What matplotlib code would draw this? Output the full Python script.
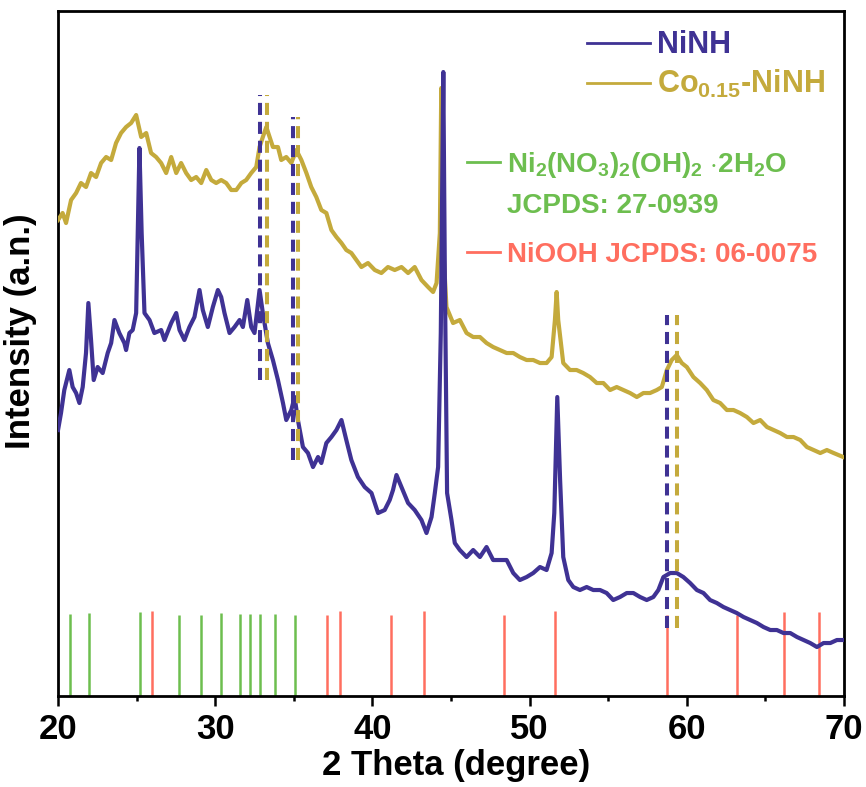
import matplotlib
matplotlib.use("Agg")
import matplotlib.pyplot as plt
import matplotlib.ticker as ticker

plt.rcParams["font.family"] = ["Liberation Sans", "DejaVu Sans"]
plt.rcParams["font.weight"] = "bold"
plt.rcParams["mathtext.fontset"] = "custom"
plt.rcParams["mathtext.bf"] = "Liberation Sans:bold"
plt.rcParams["mathtext.rm"] = "Liberation Sans:bold"
plt.rcParams["mathtext.default"] = "bf"

# NiNH pattern (2theta, intensity in arbitrary units)
ninh_2theta = [
    20.00, 20.19, 20.40, 20.72, 20.93, 21.15, 21.36, 21.57, 21.78, 21.93,
    22.10, 22.27, 22.52, 22.84, 23.16, 23.38, 23.59, 23.90, 24.22, 24.33,
    24.54, 24.75, 24.97, 25.18, 25.32, 25.50, 25.82, 26.13, 26.56, 26.77,
    27.20, 27.52, 27.73, 28.04, 28.36, 28.68, 29.00, 29.21, 29.53, 29.85,
    30.17, 30.38, 30.59, 30.91, 31.23, 31.55, 31.76, 32.04, 32.29, 32.50,
    32.82, 33.03, 33.35, 33.67, 33.99, 34.31, 34.52, 34.84, 35.05, 35.26,
    35.58, 35.90, 36.22, 36.54, 36.75, 37.07, 37.39, 37.71, 38.03, 38.34,
    38.66, 39.08, 39.51, 39.94, 40.36, 40.78, 41.10, 41.31, 41.53, 41.85,
    42.27, 42.69, 43.12, 43.44, 43.76, 43.97, 44.18, 44.35, 44.51, 44.61,
    44.75, 45.03, 45.24, 45.56, 45.99, 46.41, 46.84, 47.26, 47.68, 48.11,
    48.54, 48.96, 49.38, 49.81, 50.23, 50.66, 51.08, 51.40, 51.57, 51.76,
    51.94, 52.14, 52.46, 52.78, 53.20, 53.63, 54.05, 54.48, 54.90, 55.32,
    55.75, 56.18, 56.60, 57.03, 57.45, 57.87, 58.19, 58.51, 58.94, 59.36,
    59.78, 60.21, 60.64, 61.06, 61.48, 61.91, 62.33, 62.76, 63.18, 63.61,
    64.03, 64.46, 64.88, 65.31, 65.73, 66.15, 66.58, 67.01, 67.43, 67.85,
    68.28, 68.70, 69.13, 69.55, 69.95]
ninh_int = [
    266, 283, 306, 326, 309, 303, 293, 309, 343, 393,
    356, 316, 329, 323, 343, 353, 376, 363, 353, 346,
    363, 366, 383, 548, 463, 383, 376, 363, 366, 356,
    373, 383, 366, 356, 369, 379, 406, 386, 369, 389,
    406, 399, 383, 363, 369, 376, 369, 396, 369, 363,
    406, 383, 353, 336, 316, 293, 276, 286, 299, 276,
    249, 243, 229, 239, 233, 253, 259, 266, 276, 256,
    236, 219, 209, 203, 183, 186, 196, 206, 221, 209,
    193, 186, 176, 163, 179, 203, 229, 363, 624, 416,
    203, 176, 153, 146, 139, 146, 139, 149, 136, 136,
    136, 123, 116, 119, 123, 129, 126, 143, 183, 299,
    216, 139, 116, 109, 106, 109, 106, 106, 103, 96,
    99, 103, 103, 99, 96, 99, 106, 119, 123, 123,
    119, 113, 106, 103, 96, 93, 89, 86, 83, 79,
    76, 73, 69, 66, 66, 63, 63, 59, 56, 53,
    49, 53, 53, 56, 56]

# Co0.15-NiNH pattern
co_2theta = [
    20.00, 20.29, 20.51, 20.83, 21.15, 21.46, 21.78, 22.10, 22.42, 22.74,
    23.06, 23.38, 23.69, 24.01, 24.33, 24.65, 24.97, 25.29, 25.61, 25.92,
    26.24, 26.56, 26.88, 27.20, 27.52, 27.83, 28.15, 28.47, 28.79, 29.11,
    29.43, 29.75, 30.06, 30.38, 30.70, 31.02, 31.34, 31.66, 31.97, 32.29,
    32.61, 32.82, 33.03, 33.25, 33.46, 33.67, 33.99, 34.20, 34.52, 34.84,
    35.16, 35.48, 35.80, 36.11, 36.43, 36.75, 37.07, 37.39, 37.71, 38.03,
    38.34, 38.66, 38.98, 39.30, 39.72, 40.15, 40.57, 40.99, 41.42, 41.85,
    42.27, 42.69, 43.12, 43.54, 43.86, 44.08, 44.29, 44.38, 44.50, 44.71,
    45.13, 45.56, 45.99, 46.41, 46.84, 47.26, 47.68, 48.11, 48.54, 48.96,
    49.38, 49.81, 50.23, 50.66, 51.08, 51.40, 51.61, 51.72, 51.82, 52.14,
    52.57, 52.99, 53.41, 53.84, 54.27, 54.69, 55.12, 55.54, 55.96, 56.39,
    56.82, 57.24, 57.66, 58.09, 58.41, 58.73, 59.04, 59.36, 59.68, 60.00,
    60.42, 60.85, 61.27, 61.69, 62.12, 62.55, 62.97, 63.39, 63.82, 64.24,
    64.67, 65.10, 65.52, 65.94, 66.37, 66.79, 67.22, 67.64, 68.06, 68.49,
    68.91, 69.34, 69.95]
co_int = [
    476, 483, 473, 496, 503, 513, 509, 523, 519, 533,
    539, 536, 553, 563, 569, 573, 581, 559, 563, 543,
    539, 533, 523, 539, 523, 533, 523, 516, 519, 513,
    526, 516, 513, 516, 513, 506, 506, 513, 516, 523,
    529, 549, 559, 569, 559, 549, 549, 536, 539, 533,
    546, 536, 523, 509, 499, 486, 483, 466, 459, 453,
    446, 443, 436, 429, 433, 426, 423, 429, 426, 429,
    423, 429, 416, 409, 404, 413, 463, 608, 450, 389,
    373, 376, 363, 359, 359, 353, 349, 346, 343, 343,
    339, 336, 336, 333, 333, 339, 376, 404, 376, 333,
    326, 326, 323, 319, 313, 313, 306, 309, 306, 303,
    299, 303, 303, 306, 309, 326, 336, 341, 333, 329,
    319, 313, 306, 296, 293, 286, 286, 283, 279, 273,
    276, 269, 266, 263, 259, 259, 256, 249, 246, 243,
    246, 243, 239]

# standard cards
ni_nitrate_pos = [20.76, 21.99, 25.22, 27.72, 29.08, 30.39, 31.60, 32.19, 32.85, 33.78, 35.10]
ni_nitrate_h = [82, 83, 84, 81, 81, 83, 82, 82, 82, 82, 81]
niooh_pos = [25.98, 37.11, 37.96, 41.18, 43.26, 48.37, 51.60, 58.76, 63.17, 66.20, 68.41]
niooh_h = [85, 81, 85, 81, 85, 81, 85, 81, 81, 84, 84]

# dashed peak markers: NiNH position, Co0.15-NiNH position, bottom, top
marker_ninh = [32.85, 34.92, 58.72]
marker_co = [33.30, 35.27, 59.36]
marker_bottom = [316, 236, 68]
marker_top = [601, 579, 381]

PURPLE = "#3f3294"
GOLD = "#c4aa3c"
GREEN = "#6dbe4f"
RED = "#ff6e5f"

fig = plt.figure(figsize=(8.66, 7.87), dpi=100)
ax = fig.add_axes([0.067, 0.1156, 0.9076, 0.8704])

ax.plot(co_2theta, co_int, color=GOLD, lw=3.0, zorder=3, solid_joinstyle="round")
ax.plot(ninh_2theta, ninh_int, color=PURPLE, lw=3.0, zorder=4, solid_joinstyle="round")

ax.vlines(ni_nitrate_pos, 0, ni_nitrate_h, color=GREEN, lw=1.8)
ax.vlines(niooh_pos, 0, niooh_h, color=RED, lw=1.8)

ax.vlines(marker_ninh, marker_bottom, marker_top, color=PURPLE, lw=2.9,
          linestyles=(0, (3, 1.7)), zorder=5)
ax.vlines(marker_co, marker_bottom, marker_top, color=GOLD, lw=2.9,
          linestyles=(0, (3, 1.7)), zorder=5)

ax.set_xlim(20, 70)
ax.set_ylim(0, 685)
ax.xaxis.set_major_locator(ticker.MultipleLocator(10))
ax.xaxis.set_minor_locator(ticker.MultipleLocator(5))
ax.set_yticks([])
ax.tick_params(axis="x", which="major", direction="out", length=7, width=1.8,
               labelsize=25, pad=5)
ax.tick_params(axis="x", which="minor", direction="out", length=3.6, width=1.8)
for s in ax.spines.values():
    s.set_linewidth(2.0)

ax.set_xlabel("2 Theta (degree)", fontsize=25, fontweight="bold")
ax.set_ylabel("Intensity (a.n.)", fontsize=25, fontweight="bold")
ax.xaxis.set_label_coords(0.506, -0.077)
ax.yaxis.set_label_coords(-0.027, 0.533)

# legend for the two samples
tr = ax.transAxes
ax.plot([0.673, 0.753], [0.953, 0.953], color=PURPLE, lw=2, transform=tr, clip_on=False)
ax.text(0.762, 0.939, "NiNH", color=PURPLE, fontsize=22, fontweight="bold",
        transform=tr, va="baseline")
ax.plot([0.673, 0.753], [0.895, 0.895], color=GOLD, lw=2, transform=tr, clip_on=False)
ax.text(0.762, 0.880, r"Co$_{0.15}$-NiNH", color=GOLD, fontsize=22, fontweight="bold",
        transform=tr, va="baseline")

# legend for the standard cards
ax.plot([0.520, 0.562], [0.780, 0.780], color=GREEN, lw=2, transform=tr, clip_on=False)
ax.text(0.571, 0.765, r"Ni$_2$(NO$_3$)$_2$(OH)$_2$ $\cdot$2H$_2$O", color=GREEN,
        fontsize=20, fontweight="bold", transform=tr, va="baseline")
ax.text(0.571, 0.705, "JCPDS: 27-0939", color=GREEN, fontsize=20, fontweight="bold",
        transform=tr, va="baseline")
ax.plot([0.520, 0.562], [0.648, 0.648], color=RED, lw=2, transform=tr, clip_on=False)
ax.text(0.571, 0.634, "NiOOH JCPDS: 06-0075", color=RED, fontsize=20, fontweight="bold",
        transform=tr, va="baseline")

plt.savefig("out.png", dpi=100)
